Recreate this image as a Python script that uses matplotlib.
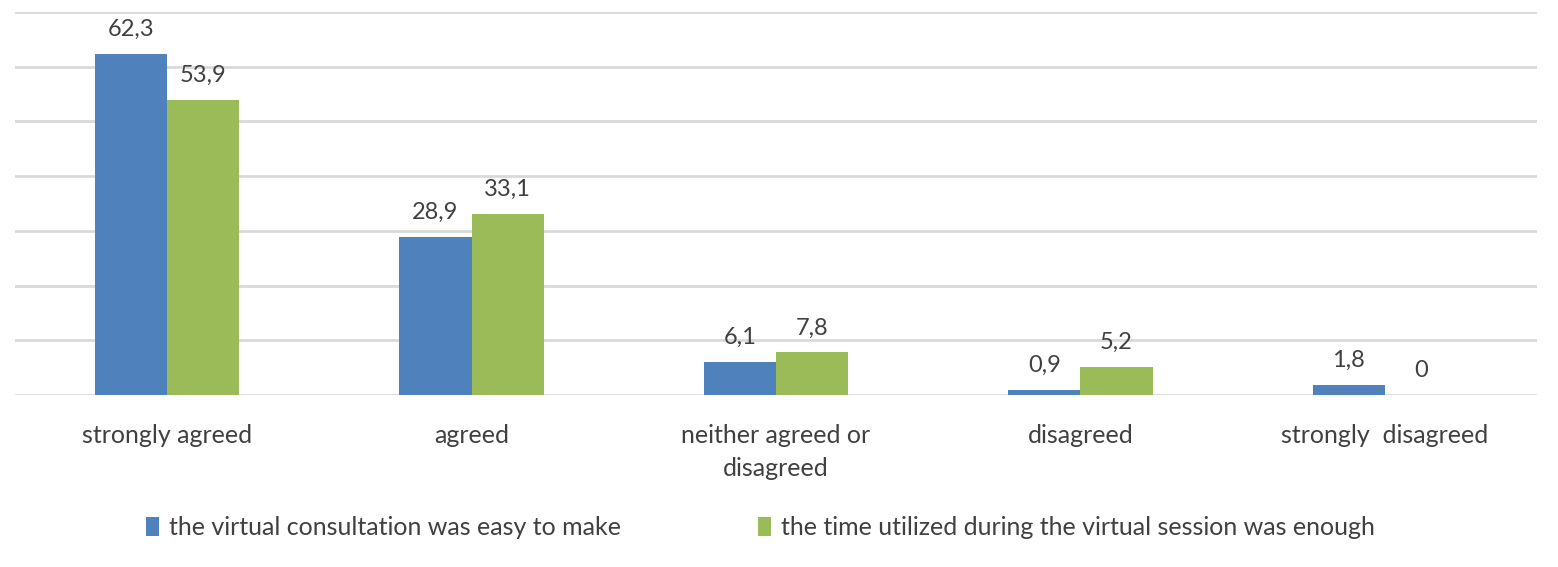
import matplotlib.pyplot as plt
import numpy as np

plt.rcParams['font.family'] = ['Lato', 'DejaVu Sans']

categories = ["strongly agreed", "agreed", "neither agreed or\ndisagreed",
              "disagreed", "strongly  disagreed"]
easy_to_make = [62.3, 28.9, 6.1, 0.9, 1.8]
time_enough = [53.9, 33.1, 7.8, 5.2, 0]
series_names = ["the virtual consultation was easy to make",
                "the time utilized during the virtual session was enough"]

blue = "#4F81BD"
green = "#9BBB59"
text_col = "#404040"

fig = plt.figure(figsize=(15.58, 5.67), dpi=100)
ax = fig.add_axes([0.0096, 0.3034, 0.977, 0.6754])

x = np.arange(len(categories))
w = 0.237
b1 = ax.bar(x - w / 2, easy_to_make, w, color=blue, label=series_names[0], zorder=3)
b2 = ax.bar(x + w / 2, time_enough, w, color=green, label=series_names[1], zorder=3)

for bars, vals in ((b1, easy_to_make), (b2, time_enough)):
    for rect, v in zip(bars, vals):
        ax.annotate(f"{v:g}".replace(".", ","),
                    (rect.get_x() + rect.get_width() / 2, rect.get_height()),
                    xytext=(0, 10), textcoords="offset points",
                    ha="center", va="bottom", fontsize=17, color=text_col)

ax.set_xlim(-0.5, len(categories) - 0.5)
ax.set_ylim(0, 70)
ax.set_yticks(np.arange(0, 71, 10))
ax.set_yticklabels([])
ax.tick_params(axis="y", length=0)
ax.tick_params(axis="x", length=0, pad=21)
ax.set_xticks(x)
ax.set_xticklabels(categories, fontsize=18, color=text_col, va="top", linespacing=1.5)
ax.grid(True, axis="y", color="#D9D9D9", linewidth=2, zorder=0)
for s in ax.spines.values():
    s.set_visible(False)

fig.legend(loc="center", bbox_to_anchor=(0.488, 0.069), ncol=2, frameon=False,
           fontsize=18, handlelength=0.5, handleheight=0.8, handletextpad=0.4,
           columnspacing=5.5, labelcolor=text_col)

plt.savefig("out.png", dpi=100)
